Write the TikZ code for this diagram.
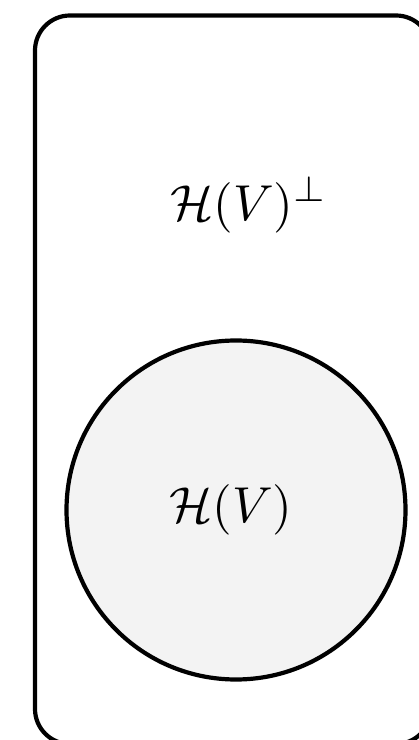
\documentclass[tikz,border=0pt]{standalone}
\usepackage{amsmath}
\begin{document}
\begin{tikzpicture}[x=1pt,y=1pt,
  outline/.style={draw=black,line width=4.2pt},
  lbl/.style={scale=5.05,inner sep=0pt}]
\useasboundingbox (0,0) rectangle (419,740);
\begin{scope}
\clip (0,0) rectangle (419,740);
\draw[outline,rounded corners=35pt] (35,-4) rectangle (431,724.5);
\end{scope}
\node[outline,circle,fill={rgb,255:red,243;green,243;blue,243},minimum size=339pt,inner sep=0pt] (hv) at (236,230) {};
\node[lbl] (hvperp) at (249,535) {$\mathcal{H}(V)^{\perp}$};
\node[lbl] (hvlabel) at (231,230) {$\mathcal{H}(V)$};
\end{tikzpicture}
\end{document}
